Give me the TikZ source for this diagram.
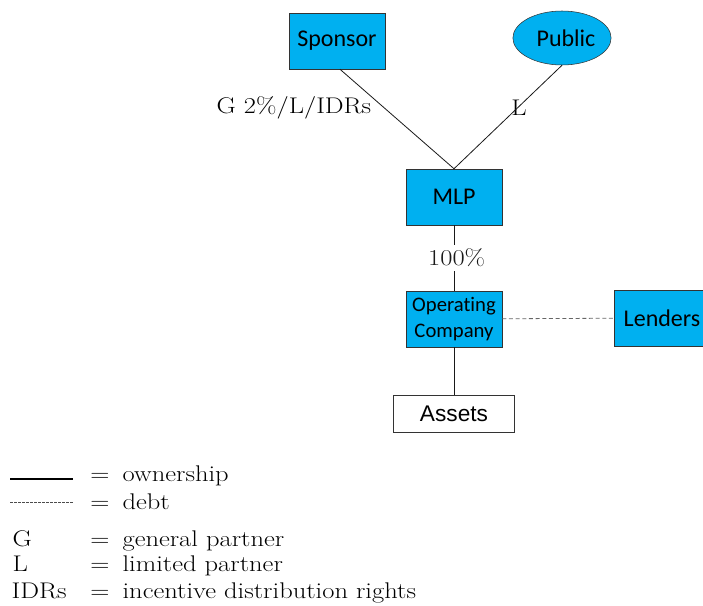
\documentclass[tikz,border=0pt]{standalone}
\usepackage{fontspec}
\usepackage{tikz}
\usetikzlibrary{shapes.geometric}

\newfontfamily\boxfont[Ligatures=NoCommon]{Carlito}
\newfontfamily\arialfont{Liberation Sans}
\newfontfamily\seriffont[FakeStretch=1.17]{Latin Modern Roman}
\definecolor{mlpblue}{HTML}{00B0F0}

\begin{document}
\begin{tikzpicture}[x=0.75pt,y=-0.75pt,
	entity/.style={draw=black!80,fill=mlpblue,minimum width=72pt,minimum height=42pt,inner sep=1pt,font=\boxfont\fontsize{18}{21}\selectfont},
	plain/.style={draw=black!80,fill=white,minimum width=91pt,minimum height=28pt,font=\arialfont\fontsize{17}{20}\selectfont},
	lbl/.style={font=\seriffont\fontsize{17}{20}\selectfont,inner sep=1pt},
	own/.style={black!90,line width=0.6pt},
	debt/.style={black!60,line width=0.6pt,dash pattern=on 3pt off 2pt}]
	\useasboundingbox (0,0) rectangle (703,606);

	% Nodes
	\node[entity] (Sponsor) at (337,41) {Sponsor};
	\node[entity,ellipse,minimum width=72.5pt,minimum height=40.5pt] (Public) at (562,38) {\hspace*{6pt}Public};
	\node[entity] (MLP) at (454,197) {MLP};
	\node[entity,align=center,font=\boxfont\fontsize{15.5}{19.5}\selectfont] (Op) at (454,319) {Operating\\Company};
	\node[entity] (Lenders) at (662,318) {Lenders};
	\node[plain] (Assets) at (454,414) {Assets};

	% Labels
	\node[lbl] (Gl) at (294,108) {G 2\%/L/IDRs};
	\node[lbl] (Ll) at (519,108) {L};

	% Lines
	\draw[own] (Sponsor.south) ++(3,0) coordinate (s1) -- (MLP.north);
	\draw[own] (Public.south) -- (MLP.north);
	\draw[own] (MLP) -- node[lbl,fill=white,inner sep=3pt,xshift=2pt] (Pct) {100\%} (Op);
	\draw[debt] (Op) -- (Lenders);
	\draw[own] (Op) -- (Assets);

	% Legend
	\coordinate (o1) at (10,479);
	\coordinate (o2) at (73,479);
	\coordinate (d1) at (10,502);
	\coordinate (d2) at (73,502);
	\draw[black,line width=1.3pt] (o1) -- (o2);
	\draw[black!70,line width=0.4pt,dash pattern=on 2pt off 1pt] (d1) -- (d2);
	\node[lbl,anchor=base west] (k3) at (11,546) {G};
	\node[lbl,anchor=base west] (k4) at (11,571) {L};
	\node[lbl,anchor=base west] (k5) at (10,598) {IDRs};
	\foreach \y/\txt [count=\i] in {481/ownership,509/debt,546/general partner,571/limited partner,598/incentive distribution rights}{
		\node[lbl,anchor=base] (eq\i) at (100,\y) {=};
		\node[lbl,anchor=base west] (t\i) at (121,\y) {\txt};
	}
\end{tikzpicture}
\end{document}
